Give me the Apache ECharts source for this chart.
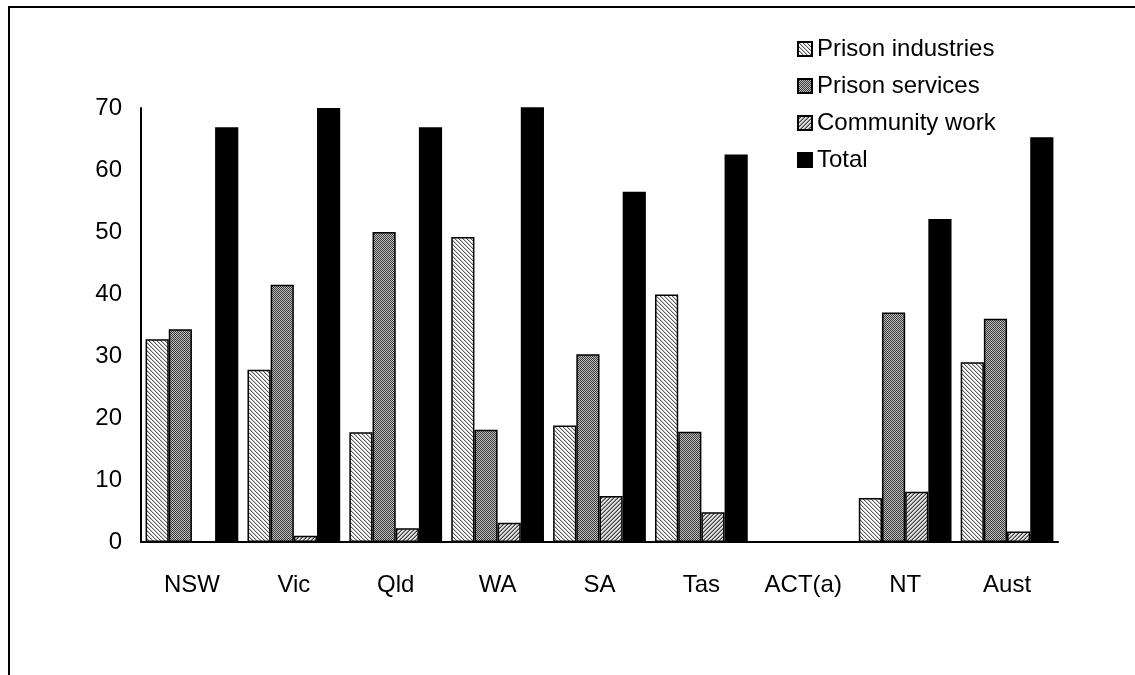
<!DOCTYPE html>
<html>
<head>
<meta charset="utf-8">
<script src="https://cdn.jsdelivr.net/npm/echarts@6/dist/echarts.min.js"></script>
<style>
  html, body { margin: 0; padding: 0; background: #fff; }
  #chart { width: 1135px; height: 675px; }
</style>
</head>
<body>
<div id="chart"></div>
<script>
// Jurisdictions along the x axis
const categories = ['NSW', 'Vic', 'Qld', 'WA', 'SA', 'Tas', 'ACT(a)', 'NT', 'Aust'];

// Per cent of eligible prisoners employed, by work type
const prisonIndustries = [32.7, 27.8, 17.7, 49.2, 18.8, 39.9, 0, 7.1, 29.0];
const prisonServices   = [34.3, 41.5, 50.0, 18.1, 30.3, 17.8, 0, 37.0, 36.0];
const communityWork    = [0,     1.0,  2.2,  3.1,  7.4,  4.8, 0,  8.1,  1.7];
const total            = [66.9, 70.0, 66.9, 70.2, 56.5, 62.5, 0, 52.1, 65.3];

const seriesNames = ['Prison industries', 'Prison services', 'Community work', 'Total'];

// Small pixel tiles used as fill patterns for the hatched bars
function makeTile(size, bg, paint) {
  const c = document.createElement('canvas');
  c.width = size; c.height = size;
  const ctx = c.getContext('2d');
  ctx.fillStyle = bg;
  ctx.fillRect(0, 0, size, size);
  paint(ctx, size);
  return { image: c, repeat: 'repeat' };
}

// light "\" hatch
const hatchLight = makeTile(4, '#ffffff', (ctx, n) => {
  ctx.fillStyle = '#5a5a5a';
  for (let i = 0; i < n; i++) ctx.fillRect(i, i, 1, 1);
  ctx.fillStyle = '#c8c8c8';
  for (let i = 0; i < n; i++) ctx.fillRect((i + 1) % n, i, 1, 1);
});

// dense dotted checker
const checker = makeTile(2, '#c0c0c0', (ctx) => {
  ctx.fillStyle = '#383838';
  ctx.fillRect(0, 0, 1, 1);
  ctx.fillRect(1, 1, 1, 1);
});

// "/" hatch, medium grey
const hatchDark = makeTile(4, '#e0e0e0', (ctx, n) => {
  ctx.fillStyle = '#404040';
  for (let i = 0; i < n; i++) ctx.fillRect(n - 1 - i, i, 1, 1);
  ctx.fillStyle = '#909090';
  for (let i = 0; i < n; i++) ctx.fillRect((2 * n - 2 - i) % n, i, 1, 1);
});

const fills = [hatchLight, checker, hatchDark, '#000000'];
const values = [prisonIndustries, prisonServices, communityWork, total];

const chart = echarts.init(document.getElementById('chart'), null, { renderer: 'canvas' });

const font = 'Liberation Sans, Arial, sans-serif';
const fontSize = 24;

chart.setOption({
  animation: false,
  backgroundColor: '#ffffff',
  textStyle: { fontFamily: font, color: '#000' },
  graphic: [{
    type: 'rect',
    shape: { x: 9, y: 7, width: 1300, height: 900 },
    style: { fill: 'none', stroke: '#000', lineWidth: 2 },
    silent: true
  }],
  legend: {
    orient: 'vertical',
    left: 792,
    top: 32,
    itemWidth: 14,
    itemHeight: 14,
    itemGap: 13,
    icon: 'rect',
    textStyle: { fontFamily: font, fontSize: fontSize, color: '#000' },
    data: seriesNames
  },
  grid: { left: 141, right: 77, top: 108, bottom: 133, containLabel: false },
  xAxis: {
    type: 'category',
    data: categories,
    axisLine: { lineStyle: { color: '#000', width: 2 } },
    axisTick: { show: false },
    axisLabel: { fontFamily: font, fontSize: fontSize, color: '#000', margin: 31 },
    splitLine: { show: false }
  },
  yAxis: {
    type: 'value',
    min: 0,
    max: 70,
    interval: 10,
    axisLine: { show: true, lineStyle: { color: '#000', width: 2 } },
    axisTick: { show: false },
    axisLabel: { fontFamily: font, fontSize: fontSize, color: '#000', margin: 19 },
    splitLine: { show: false }
  },
  series: seriesNames.map((name, i) => ({
    name: name,
    type: 'bar',
    data: values[i],
    barGap: '0%',
    barCategoryGap: '9%',
    itemStyle: { color: fills[i], borderColor: '#000', borderWidth: 1.5 }
  }))
});
</script>
</body>
</html>
